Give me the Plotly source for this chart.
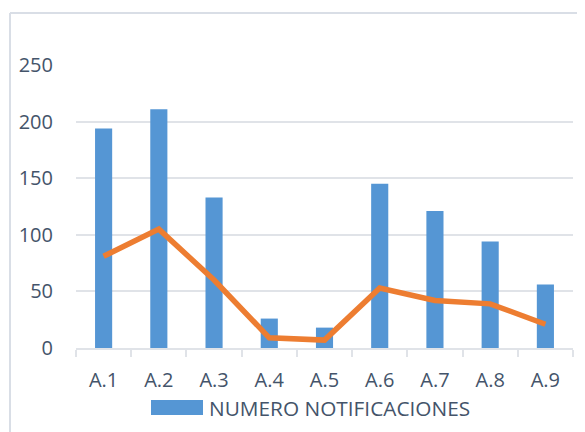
import plotly.graph_objects as go

categories = ["A.1", "A.2", "A.3", "A.4", "A.5", "A.6", "A.7", "A.8", "A.9"]
notificaciones = [194, 211, 133, 26, 18, 145, 121, 94, 56]
linea = [81, 105, 60, 9, 7, 53, 42, 39, 21]
y_ticks = [0, 50, 100, 150, 200, 250]
legend_label = "NUMERO NOTIFICACIONES"

# page body adds an 8px offset; layout numbers below are in figure pixels
W, H = 585, 432
PL, PT, PW, PH = 68, 57, 497, 283  # plot area
L, T = PL, PT
R = W - PL - PW
B = H - PT - PH

txt = "#44546a"
grid = "#e0e3e8"
frame = "#d9dee6"
bar_col = "#5596d4"


def xp(px):
    return (px - PL) / PW


def yp(py):
    return (PT + PH - py) / PH


fig = go.Figure()
fig.add_trace(go.Bar(
    x=categories, y=notificaciones, name=legend_label, showlegend=False,
    marker=dict(color=bar_col, line=dict(width=0)), width=0.31,
))
fig.add_trace(go.Scatter(
    x=categories, y=linea, mode="lines", showlegend=False,
    line=dict(color="#ed7d31", width=5.5),
))

fig.update_layout(
    width=W, height=H,
    margin=dict(l=L, r=R, t=T, b=B, autoexpand=False),
    paper_bgcolor="white", plot_bgcolor="white",
    font=dict(family="Open Sans, Liberation Sans, sans-serif", size=20, color=txt),
    showlegend=False,
)
fig.update_xaxes(
    showgrid=False, showline=True, linecolor=grid, linewidth=2,
    ticks="outside", tickson="boundaries", ticklen=7, tickcolor=grid, tickwidth=2,
    ticklabelstandoff=13,
    tickfont=dict(size=20, color=txt), fixedrange=True,
)
fig.update_yaxes(
    range=[0, 250], tickvals=y_ticks, showgrid=True, gridcolor=grid, gridwidth=2,
    zeroline=False, showline=False, ticks="", ticklabelstandoff=22,
    tickfont=dict(size=20, color=txt), fixedrange=True,
)
# chart frame (left and top edges)
fig.add_shape(type="line", xref="paper", yref="paper",
              x0=xp(2), x1=xp(2), y0=yp(H + 5), y1=yp(5),
              line=dict(color=frame, width=2))
fig.add_shape(type="line", xref="paper", yref="paper",
              x0=xp(2), x1=xp(W + 5), y0=yp(5), y1=yp(5),
              line=dict(color=frame, width=2))
# legend
fig.add_shape(type="rect", xref="paper", yref="paper",
              x0=xp(143), x1=xp(195), y0=yp(407), y1=yp(392),
              fillcolor=bar_col, line=dict(width=0))
fig.add_annotation(xref="paper", yref="paper", x=xp(199), y=yp(399.5),
                   xanchor="left", yanchor="middle", text=legend_label,
                   showarrow=False, font=dict(size=20.8, color=txt))

fig.write_html("out.html")
